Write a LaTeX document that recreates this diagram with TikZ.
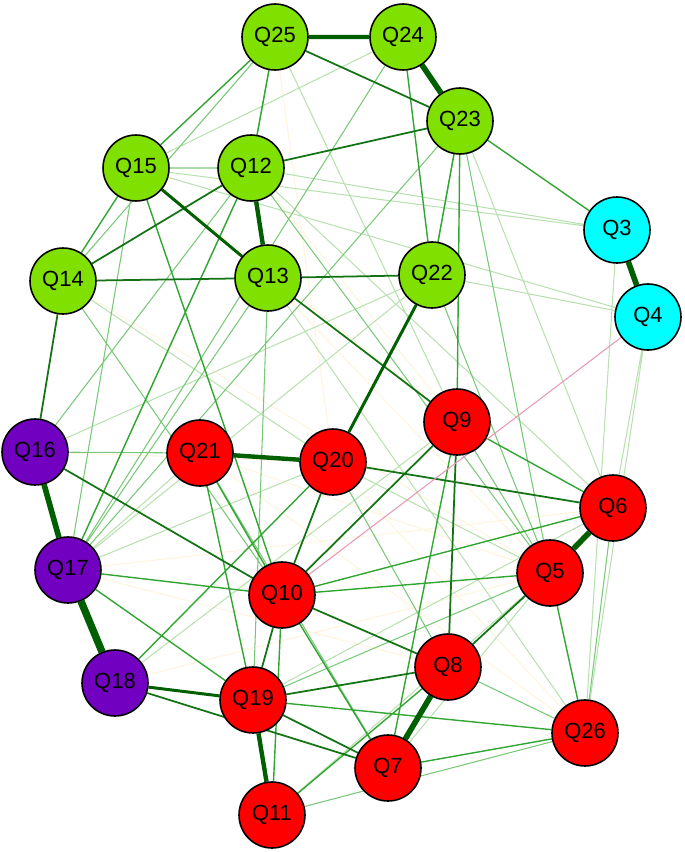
\documentclass[tikz,border=0pt]{standalone}
\usepackage{fontspec}
\setmainfont{Liberation Sans}
\usetikzlibrary{backgrounds}
\definecolor{qgreen}{RGB}{128,224,0}
\definecolor{qred}{RGB}{255,0,0}
\definecolor{qcyan}{RGB}{0,255,255}
\definecolor{qpurple}{RGB}{114,0,192}
\definecolor{edgethick}{RGB}{0,95,0}
\definecolor{edgedark}{RGB}{20,115,20}
\definecolor{edgemid}{RGB}{50,165,50}
\definecolor{edgelight}{RGB}{120,200,120}
\definecolor{edgepale}{RGB}{185,225,175}
\definecolor{edgefaint}{RGB}{255,244,222}
\definecolor{edgeneg}{RGB}{232,150,185}
\tikzstyle{qdot}=[circle,draw=black,line width=0.9pt,
                  inner sep=0pt,minimum size=1.32cm,
                  font=\fontsize{12.5}{14}\selectfont]
\tikzstyle{greendot}=[qdot,fill=qgreen]
\tikzstyle{reddot}=[qdot,fill=qred]
\tikzstyle{cyandot}=[qdot,fill=qcyan]
\tikzstyle{purpledot}=[qdot,fill=qpurple]
\tikzstyle{wthick}=[draw=edgethick,line width=3.2pt]
\tikzstyle{wheavy}=[draw=edgethick,line width=2.5pt]
\tikzstyle{wstrong}=[draw=edgethick,line width=1.7pt]
\tikzstyle{wdark}=[draw=edgedark,line width=1pt]
\tikzstyle{wmid}=[draw=edgemid,line width=0.8pt]
\tikzstyle{wlight}=[draw=edgelight,line width=0.6pt]
\tikzstyle{wpale}=[draw=edgepale,line width=0.6pt]
\tikzstyle{wfaint}=[draw=edgefaint,line width=0.6pt]
\tikzstyle{wneg}=[draw=edgeneg,line width=0.6pt]

\begin{document}
\begin{tikzpicture}[x=0.02cm,y=-0.02cm]
    \useasboundingbox (0,0) rectangle (685,852);
    % factor 1
    \node (q25) at (275, 37) [greendot]{Q25};
    \node (q24) at (403, 37) [greendot]{Q24};
    \node (q23) at (460,121) [greendot]{Q23};
    \node (q15) at (136,168) [greendot]{Q15};
    \node (q12) at (251,168) [greendot]{Q12};
    \node (q14) at ( 63,281) [greendot]{Q14};
    \node (q13) at (268,278) [greendot]{Q13};
    \node (q22) at (432,275) [greendot]{Q22};
    % factor 2
    \node (q3)  at (617,230) [cyandot]{Q3};
    \node (q4)  at (648,317) [cyandot]{Q4};
    % factor 3
    \node (q16) at ( 35,452) [purpledot]{Q16};
    \node (q17) at ( 68,570) [purpledot]{Q17};
    \node (q18) at (115,683) [purpledot]{Q18};
    % factor 4
    \node (q21) at (200,453) [reddot]{Q21};
    \node (q20) at (333,462) [reddot]{Q20};
    \node (q9)  at (457,422) [reddot]{Q9};
    \node (q6)  at (613,508) [reddot]{Q6};
    \node (q10) at (282,595) [reddot]{Q10};
    \node (q5)  at (550,573) [reddot]{Q5};
    \node (q8)  at (448,667) [reddot]{Q8};
    \node (q19) at (253,700) [reddot]{Q19};
    \node (q26) at (585,733) [reddot]{Q26};
    \node (q7)  at (388,768) [reddot]{Q7};
    \node (q11) at (272,815) [reddot]{Q11};

    \begin{scope}[on background layer]
    \draw[wfaint] (q13) -- (q5) (q21) -- (q5) (q17) -- (q6) (q20) -- (q26)
        (q12) -- (q9) (q17) -- (q8) (q14) -- (q5) (q18) -- (q5)
        (q15) -- (q9) (q21) -- (q26) (q25) -- (q20) (q16) -- (q20);
    \draw[wpale] (q15) -- (q3) (q12) -- (q3) (q15) -- (q4) (q22) -- (q4)
        (q4) -- (q6) (q4) -- (q26) (q3) -- (q26) (q23) -- (q6)
        (q15) -- (q24) (q25) -- (q9) (q17) -- (q12) (q17) -- (q22)
        (q17) -- (q21) (q17) -- (q20) (q18) -- (q9) (q19) -- (q6)
        (q7) -- (q5) (q11) -- (q5) (q20) -- (q5) (q12) -- (q6)
        (q24) -- (q23) (q14) -- (q20) (q16) -- (q22) (q13) -- (q26);
    \draw[wlight] (q25) -- (q14) (q25) -- (q12) (q24) -- (q17)
        (q23) -- (q22) (q23) -- (q5) (q22) -- (q5) (q15) -- (q17)
        (q15) -- (q12) (q16) -- (q21) (q16) -- (q12) (q14) -- (q10)
        (q17) -- (q13) (q17) -- (q23) (q12) -- (q5) (q20) -- (q8)
        (q8) -- (q26) (q6) -- (q26) (q11) -- (q26) (q19) -- (q5)
        (q9) -- (q5) (q13) -- (q19) (q21) -- (q7);
    \draw[wmid] (q15) -- (q25) (q25) -- (q12) (q24) -- (q22) (q23) -- (q22)
        (q23) -- (q3) (q23) -- (q9) (q15) -- (q14) (q15) -- (q10)
        (q17) -- (q10) (q17) -- (q19) (q21) -- (q19) (q21) -- (q10)
        (q10) -- (q5) (q5) -- (q26) (q9) -- (q6) (q10) -- (q11)
        (q10) -- (q7) (q7) -- (q26) (q11) -- (q8) (q9) -- (q7)
        (q19) -- (q26) (q10) -- (q6) (q18) -- (q20) (q12) -- (q17);
    \draw[wdark] (q25) -- (q23) (q12) -- (q23) (q14) -- (q12)
        (q14) -- (q13) (q13) -- (q22) (q14) -- (q16) (q16) -- (q10)
        (q13) -- (q9) (q20) -- (q6) (q9) -- (q10) (q9) -- (q8)
        (q19) -- (q8) (q10) -- (q19) (q18) -- (q7) (q10) -- (q20)
        (q19) -- (q7) (q10) -- (q8) (q5) -- (q8);
    \draw[wneg] (q4) -- (q10);
    \draw[wstrong] (q15) -- (q13) (q22) -- (q20) (q18) -- (q19);
    \draw[wheavy] (q12) -- (q13) (q19) -- (q11) (q21) -- (q20) (q25) -- (q24);
    \draw[wthick] (q24) -- (q23) (q3) -- (q4) (q16) -- (q17) (q6) -- (q5)
        (q8) -- (q7);
    \draw[wthick,line width=4.2pt] (q17) -- (q18);
    \end{scope}
  \end{tikzpicture}
\end{document}
